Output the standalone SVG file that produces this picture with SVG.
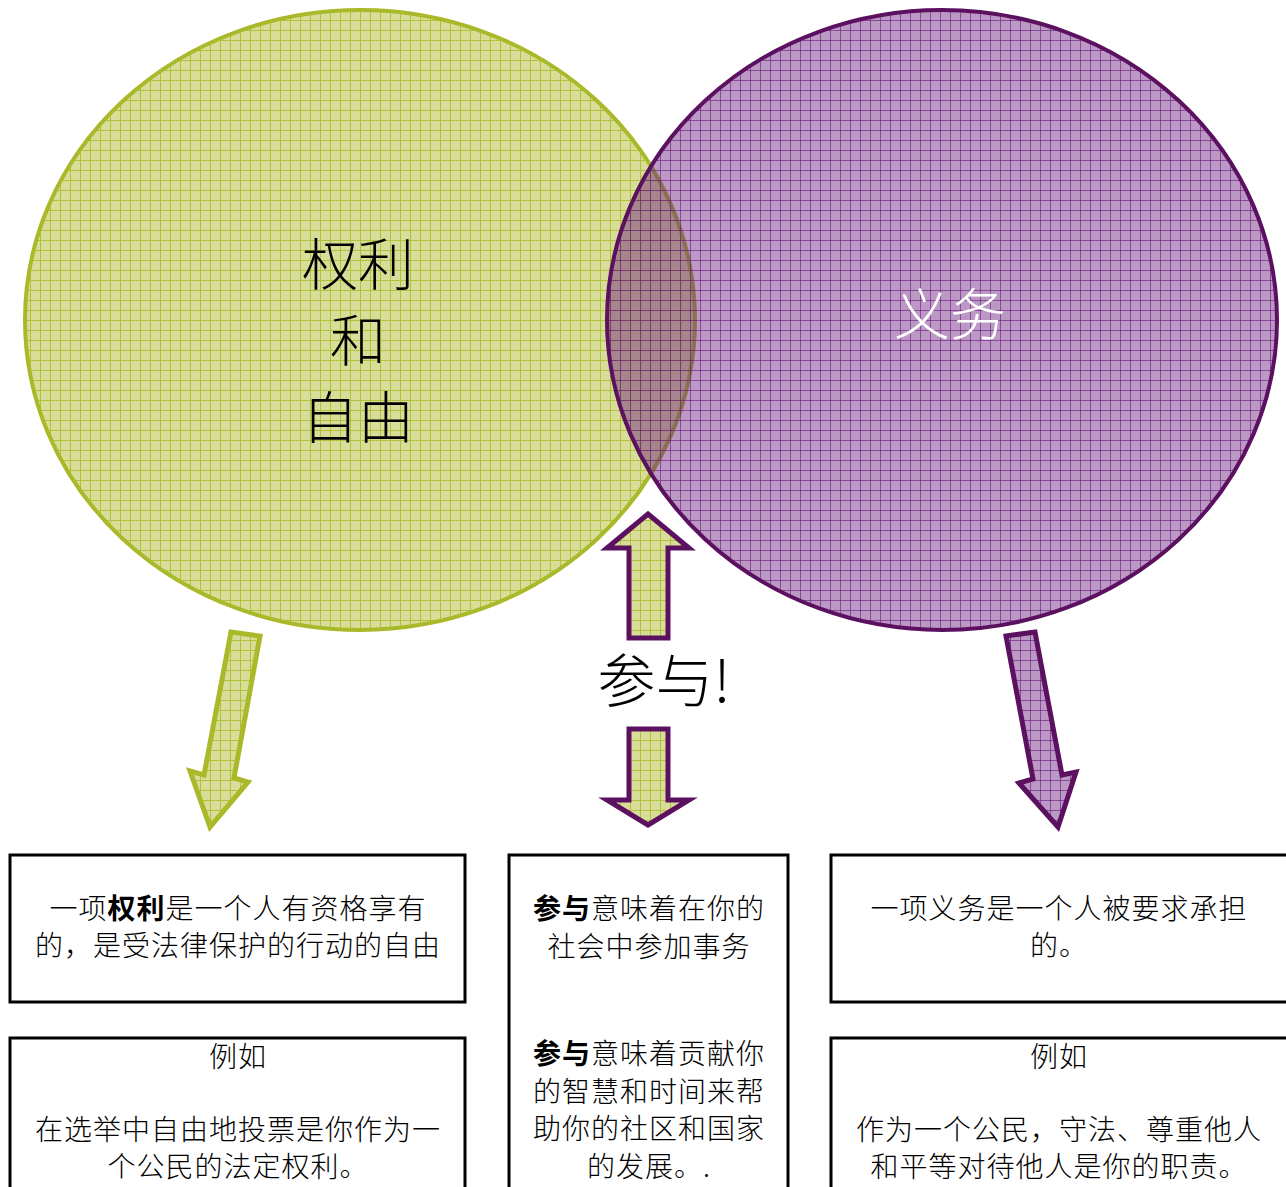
<svg xmlns="http://www.w3.org/2000/svg" width="1286" height="1187" viewBox="0 0 1286 1187">
<defs>
<pattern id="gp" x="0" y="0" width="10" height="10" patternUnits="userSpaceOnUse">
<rect width="10" height="10" fill="#d8de9a"/>
<path d="M0 0.5H10M0.5 0V10" stroke="#b2c13a" stroke-width="1" fill="none"/>
</pattern>
<pattern id="pp" x="0" y="0" width="10" height="10" patternUnits="userSpaceOnUse">
<rect width="10" height="10" fill="#67157b" fill-opacity="0.44"/>
<path d="M0 0.5H10M0.5 0V10" stroke="#67157b" stroke-opacity="0.6" stroke-width="1" fill="none"/>
</pattern>
</defs>
<style>
.big{font-family:"Noto Sans CJK SC","Noto Sans",sans-serif;font-size:56px;text-anchor:middle;font-weight:300}
.t{font-family:"Noto Sans CJK SC","Noto Sans",sans-serif;font-size:28px;text-anchor:middle;fill:#000;letter-spacing:1px;font-weight:300}
.box{fill:#fff;stroke:#000;stroke-width:3}
.b{font-weight:bold}
</style>
<g id="rights-circle">
<ellipse cx="360" cy="320" rx="335" ry="310" fill="url(#gp)" stroke="#a9b92a" stroke-width="4"/>
<text class="big" x="358" y="285">权利</text>
<text class="big" x="358" y="361">和</text>
<text class="big" x="358" y="438">自由</text>
</g>
<g id="duties-circle">
<ellipse cx="942" cy="320" rx="335" ry="310" fill="url(#pp)" stroke="#5c1060" stroke-width="4"/>
<text class="big" x="950" y="335" fill="#fff">义务</text>
</g>
<g id="connectors">
<path d="M648 514 L689 548 L668 548 L668 638 L629 638 L629 548 L607 548 Z" fill="url(#gp)" stroke="#5c1060" stroke-width="5" stroke-linejoin="miter"/>
<path d="M629 729 L668 729 L668 800 L689 800 L648 825 L607 800 L629 800 Z" fill="url(#gp)" stroke="#5c1060" stroke-width="5"/>
<path d="M231 632 L260 636 L234 778 L248 782 L210 827 L190 771 L204 775 Z" fill="url(#gp)" stroke="#a9b92a" stroke-width="5"/>
<path d="M1006 636 L1035 632 L1062 775 L1076 772 L1058 827 L1019 783 L1033 779 Z" fill="url(#pp)" stroke="#5c1060" stroke-width="5"/>
</g>
<g id="participate-label">
<text class="big" x="664" y="702" style="font-size:58px">参与!</text>
</g>
<g id="rights-def">
<rect class="box" x="10" y="855" width="455" height="147"/>
<text class="t" x="238" y="919">一项<tspan class="b">权利</tspan>是一个人有资格享有</text>
<text class="t" x="238" y="956">的，是受法律保护的行动的自由</text>
</g>
<g id="rights-example">
<rect class="box" x="10" y="1038" width="455" height="160"/>
<text class="t" x="238" y="1067">例如</text>
<text class="t" x="238" y="1140">在选举中自由地投票是你作为一</text>
<text class="t" x="238" y="1177">个公民的法定权利。</text>
</g>
<g id="participate-def">
<rect class="box" x="509" y="855" width="279" height="345"/>
<text class="t" x="649" y="919"><tspan class="b">参与</tspan>意味着在你的</text>
<text class="t" x="649" y="957">社会中参加事务</text>
<text class="t" x="649" y="1064"><tspan class="b">参与</tspan>意味着贡献你</text>
<text class="t" x="649" y="1102">的智慧和时间来帮</text>
<text class="t" x="649" y="1139">助你的社区和国家</text>
<text class="t" x="649" y="1177">的发展。.</text>
</g>
<g id="duties-def">
<rect class="box" x="831" y="855" width="460" height="147"/>
<text class="t" x="1059" y="919">一项义务是一个人被要求承担</text>
<text class="t" x="1059" y="956">的。</text>
</g>
<g id="duties-example">
<rect class="box" x="831" y="1038" width="460" height="160"/>
<text class="t" x="1059" y="1067">例如</text>
<text class="t" x="1059" y="1140">作为一个公民，守法、尊重他人</text>
<text class="t" x="1059" y="1177">和平等对待他人是你的职责。</text>
</g>
</svg>
